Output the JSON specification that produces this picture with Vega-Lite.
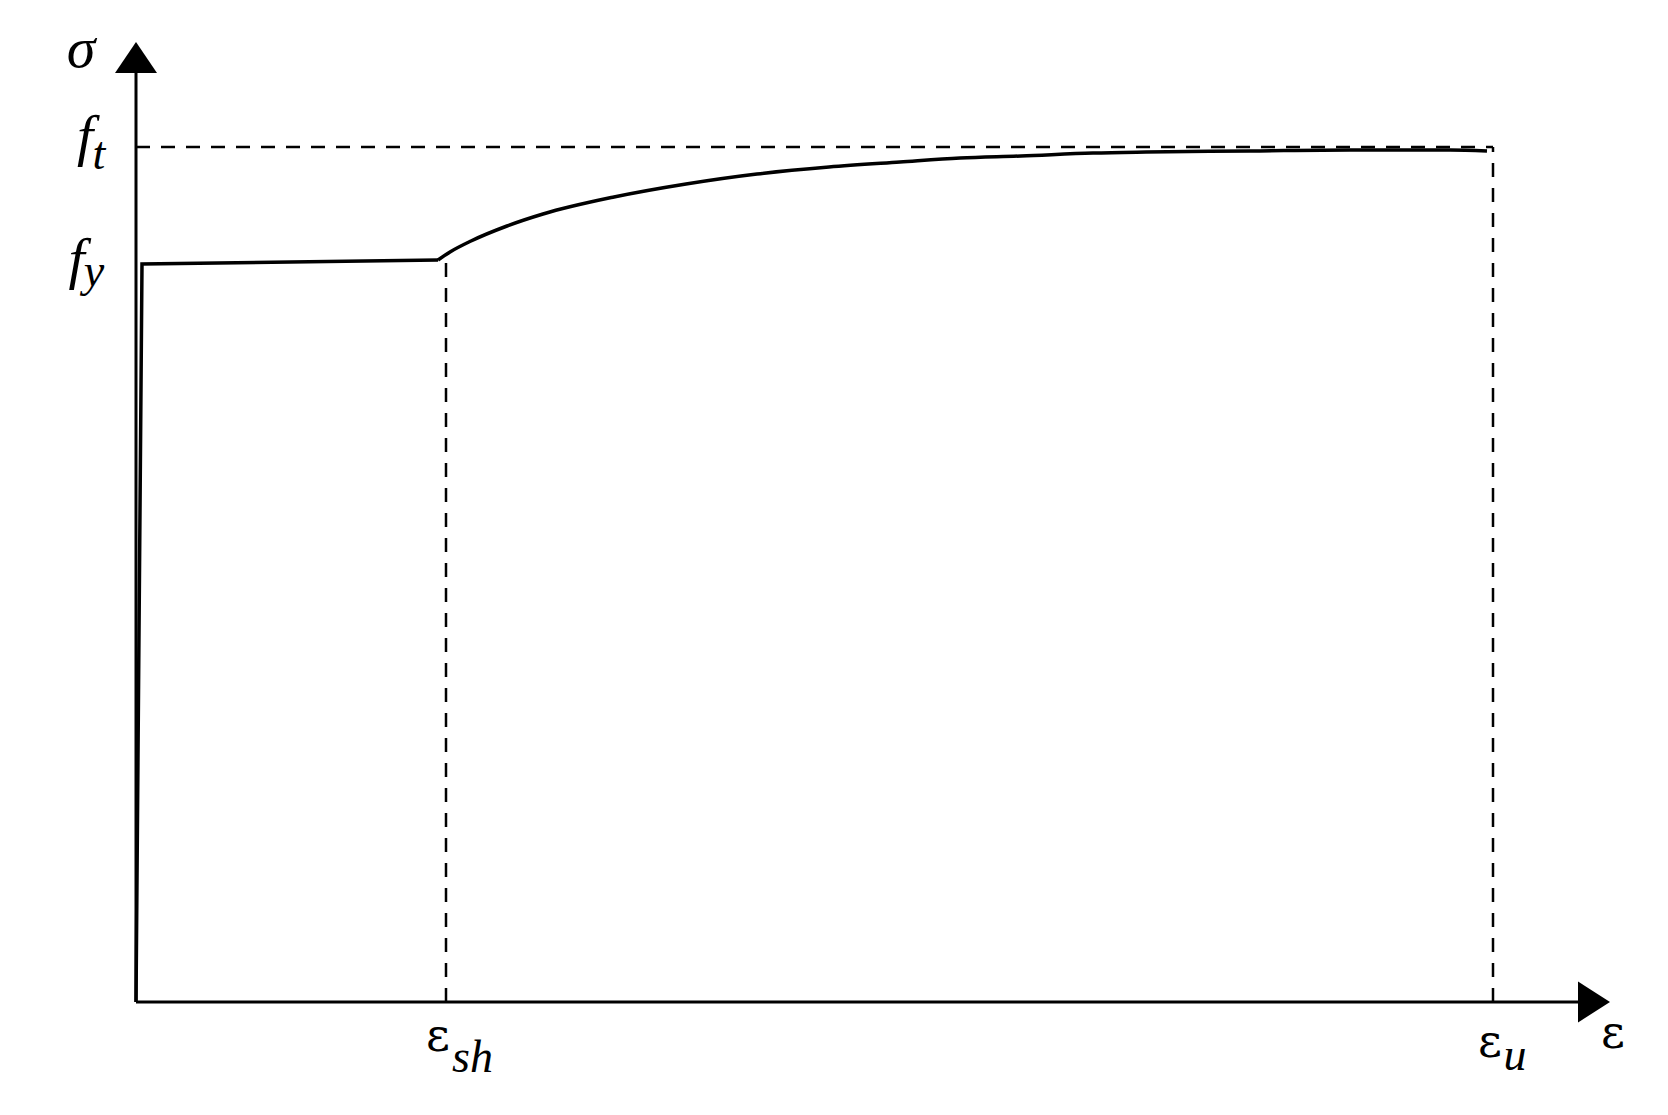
{
  "$schema": "https://vega.github.io/schema/vega-lite/v6.json",
  "width": 1476,
  "height": 960,
  "autosize": {"type": "none"},
  "padding": {"left": 136, "top": 42, "right": 56, "bottom": 113},
  "background": "white",
  "config": {"view": {"stroke": null}},
  "datasets": {
    "elastic": [
      {"i": 0, "strain": 0, "stress": 0},
      {"i": 1, "strain": 0.6, "stress": 73.8},
      {"i": 2, "strain": 30.2, "stress": 74.2}
    ],
    "hardening": [
      {"i": 0, "strain": 30.2, "stress": 74.2},
      {"i": 1, "strain": 31.4, "stress": 75.0},
      {"i": 2, "strain": 33.5, "stress": 76.1},
      {"i": 3, "strain": 37.1, "stress": 77.6},
      {"i": 4, "strain": 40.7, "stress": 78.8},
      {"i": 5, "strain": 47.8, "stress": 80.5},
      {"i": 6, "strain": 55.0, "stress": 81.8},
      {"i": 7, "strain": 62.1, "stress": 82.8},
      {"i": 8, "strain": 69.3, "stress": 83.5},
      {"i": 9, "strain": 76.4, "stress": 84.0},
      {"i": 10, "strain": 82.4, "stress": 84.4},
      {"i": 11, "strain": 88.5, "stress": 84.6},
      {"i": 12, "strain": 95.7, "stress": 84.9},
      {"i": 13, "strain": 101.0, "stress": 85.0},
      {"i": 14, "strain": 111.4, "stress": 85.1},
      {"i": 15, "strain": 121.4, "stress": 85.2},
      {"i": 16, "strain": 131.4, "stress": 85.2},
      {"i": 17, "strain": 135.1, "stress": 85.1}
    ],
    "dashed": [
      {"x1": 0, "x2": 135.7, "y1": 85.5, "y2": 85.5},
      {"x1": 31.0, "x2": 31.0, "y1": 0, "y2": 74.4},
      {"x1": 135.7, "x2": 135.7, "y1": 0, "y2": 85.5}
    ],
    "axes": [
      {"x1": 0, "x2": 145, "y1": 0, "y2": 0},
      {"x1": 0, "x2": 0, "y1": 0, "y2": 93}
    ],
    "arrowUp": [{"x": 0, "y": 94.45}],
    "arrowRight": [{"x": 145.8, "y": 0}],
    "bigItalic": [
      {"label": "σ", "x": -5.5, "y": 93.5},
      {"label": "f", "x": -5.1, "y": 84.7},
      {"label": "f", "x": -5.95, "y": 72.4}
    ],
    "smallItalic": [
      {"label": "t", "x": -3.7, "y": 83.3},
      {"label": "y", "x": -4.2, "y": 71.6},
      {"label": "u", "x": 137.9, "y": -6.8}
    ],
    "subLeft": [
      {"label": "sh", "x": 31.6, "y": -7.0}
    ],
    "eps": [
      {"label": "ε", "x": 30.2, "y": -4.9},
      {"label": "ε", "x": 135.4, "y": -5.5},
      {"label": "ε", "x": 147.7, "y": -4.6}
    ]
  },
  "encoding": {},
  "layer": [
    {
      "data": {"name": "dashed"},
      "mark": {"type": "rule", "strokeDash": [14, 11], "strokeWidth": 2.5, "color": "black"},
      "encoding": {
        "x": {"field": "x1", "type": "quantitative", "scale": {"domain": [0, 147.6], "nice": false, "zero": false}, "axis": null},
        "x2": {"field": "x2"},
        "y": {"field": "y1", "type": "quantitative", "scale": {"domain": [0, 96], "nice": false, "zero": false}, "axis": null},
        "y2": {"field": "y2"}
      }
    },
    {
      "data": {"name": "axes"},
      "mark": {"type": "rule", "strokeWidth": 3, "color": "black"},
      "encoding": {
        "x": {"field": "x1", "type": "quantitative", "axis": null},
        "x2": {"field": "x2"},
        "y": {"field": "y1", "type": "quantitative", "axis": null},
        "y2": {"field": "y2"}
      }
    },
    {
      "data": {"name": "elastic"},
      "mark": {"type": "line", "strokeWidth": 3.5, "color": "black", "interpolate": "linear", "strokeJoin": "miter"},
      "encoding": {
        "x": {"field": "strain", "type": "quantitative", "axis": null},
        "y": {"field": "stress", "type": "quantitative", "axis": null},
        "order": {"field": "i", "type": "quantitative"}
      }
    },
    {
      "data": {"name": "hardening"},
      "mark": {"type": "line", "strokeWidth": 3.5, "color": "black", "interpolate": "monotone"},
      "encoding": {
        "x": {"field": "strain", "type": "quantitative", "axis": null},
        "y": {"field": "stress", "type": "quantitative", "axis": null},
        "order": {"field": "i", "type": "quantitative"}
      }
    },
    {
      "data": {"name": "arrowUp"},
      "mark": {"type": "point", "shape": "M0,-0.738 L1,0.738 L-1,0.738 Z", "filled": true, "color": "black", "opacity": 1, "size": 1764, "strokeWidth": 0},
      "encoding": {
        "x": {"field": "x", "type": "quantitative", "axis": null},
        "y": {"field": "y", "type": "quantitative", "axis": null}
      }
    },
    {
      "data": {"name": "arrowRight"},
      "mark": {"type": "point", "shape": "M0.78,0 L-0.78,-1 L-0.78,1 Z", "filled": true, "color": "black", "opacity": 1, "size": 1681, "strokeWidth": 0},
      "encoding": {
        "x": {"field": "x", "type": "quantitative", "axis": null},
        "y": {"field": "y", "type": "quantitative", "axis": null}
      }
    },
    {
      "data": {"name": "bigItalic"},
      "mark": {"type": "text", "font": "Liberation Serif", "fontStyle": "italic", "fontSize": 58, "align": "center", "baseline": "alphabetic", "color": "black"},
      "encoding": {
        "x": {"field": "x", "type": "quantitative", "axis": null},
        "y": {"field": "y", "type": "quantitative", "axis": null},
        "text": {"field": "label"}
      }
    },
    {
      "data": {"name": "smallItalic"},
      "mark": {"type": "text", "font": "Liberation Serif", "fontStyle": "italic", "fontSize": 46, "align": "center", "baseline": "alphabetic", "color": "black"},
      "encoding": {
        "x": {"field": "x", "type": "quantitative", "axis": null},
        "y": {"field": "y", "type": "quantitative", "axis": null},
        "text": {"field": "label"}
      }
    },
    {
      "data": {"name": "subLeft"},
      "mark": {"type": "text", "font": "Liberation Serif", "fontStyle": "italic", "fontSize": 46, "align": "left", "baseline": "alphabetic", "color": "black"},
      "encoding": {
        "x": {"field": "x", "type": "quantitative", "axis": null},
        "y": {"field": "y", "type": "quantitative", "axis": null},
        "text": {"field": "label"}
      }
    },
    {
      "data": {"name": "eps"},
      "mark": {"type": "text", "font": "DejaVu Serif", "fontSize": 46, "align": "center", "baseline": "alphabetic", "color": "black"},
      "encoding": {
        "x": {"field": "x", "type": "quantitative", "axis": null},
        "y": {"field": "y", "type": "quantitative", "axis": null},
        "text": {"field": "label"}
      }
    }
  ]
}
